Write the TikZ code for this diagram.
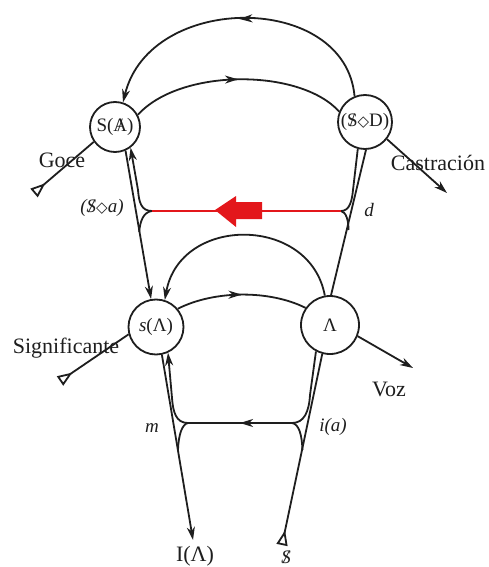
\documentclass[tikz,border=0pt]{standalone}
\usepackage{fontspec}
\setmainfont{Liberation Serif}
\newfontfamily\symf{DejaVu Sans}
\usetikzlibrary{arrows.meta,decorations.markings}
\newcommand\slA{\ooalign{A\cr\hidewidth/\hidewidth\cr}}
\newcommand\slS{\ooalign{S\cr\hidewidth/\hidewidth\cr}}
\newcommand\lozg{{\symf\fontsize{15}{15}\selectfont ◇}}
\definecolor{ink}{HTML}{1E1E1E}
\definecolor{lred}{HTML}{E3171B}
\tikzset{
  lac/.tip={Stealth[length=13pt,width=8pt,inset=4pt]},
  tailtri/.tip={Triangle[open,reversed,length=15pt,width=11pt,line width=1.8pt]},
  line/.style={draw=ink, line width=1.8pt},
  circ/.style={circle, draw=ink, line width=1.8pt, inner sep=0pt, text=ink, font=\fontsize{19}{21}\selectfont},
  lab/.style={font=\fontsize{22}{24}\selectfont, text=ink, inner sep=0pt},
  mlab/.style={font=\fontsize{19}{21}\selectfont\itshape, text=ink, inner sep=0pt},
  midarr/.style={postaction={decorate},decoration={markings,mark=at position #1 with {\arrow{lac}}}},
  midarr/.default=0.5,
  redline/.style={draw=lred, line width=1.8pt}
}
\begin{document}
\begin{tikzpicture}[x=1pt,y=-1pt]
\fill[white] (0,0) rectangle (489,567);
\useasboundingbox (0,0) rectangle (489,567);

% nodes
\node[circ, minimum size=50pt] (SA) at (115,127) {S(\slA)};
\node[circ, minimum size=54pt] (SD) at (365,122) {(\slS\lozg D)};
\node[circ, minimum size=55pt] (sA) at (156,327) {\textit{s}(Λ)};
\node[circ, minimum size=58pt] (A) at (330,325) {Λ};

\coordinate (L1) at (152,211);
\coordinate (R1) at (341,211);
\coordinate (L2) at (188,423);
\coordinate (R2) at (292,423);
\coordinate (g0) at (34,193);
\coordinate (c1) at (447,193);
\coordinate (sg0) at (60,381);
\coordinate (v1) at (413,368);
\coordinate (i1) at (193,540);
\coordinate (s0) at (282,545);

% upper arcs
\draw[line, midarr, -{lac}] (SD.112) .. controls (345,-8) and (150,-8) .. (SA.72);
\draw[line, midarr] (SA.28) .. controls (180,68) and (300,68) .. (SD.158);

% goce, castracion
\draw[line, {tailtri}-] (g0) -- (SA.215);
\draw[line, -{lac}] (SD.-38) -- (c1);

% left upper verticals
\draw[line, -{lac}] (SA.-66) -- (sA.100);
\draw[line, -{lac}] (L1) .. controls (141,211) and (139,202) .. (138,190) -- (SA.-53);
\draw[line] (L1) .. controls (143,212) and (140,222) .. (139.2,232);

% right upper verticals
\draw[line] (SD.-88) -- (A.88);
\draw[line] (R1) .. controls (350,211) and (352,200) .. (353,190) -- (SD.-105);
\draw[line] (R1) .. controls (346,212) and (348.5,220) .. (348.5,230);

% red line and arrow
\draw[redline] (R1) -- (L1);
\fill[lred] (215,210) -- (236,196) -- (236,202) -- (262,202) -- (262,219) -- (236,219) -- (236,227) -- cycle;

% lower arcs
\draw[line, -{lac}] (A.100) .. controls (310,215) and (180,215) .. (sA.72);
\draw[line, midarr] (sA.40) .. controls (215,290) and (270,290) .. (A.145);

% significante, voz
\draw[line, {tailtri}-] (sg0) -- (sA.195);
\draw[line, -{lac}] (A.-22) -- (v1);

% lower left
\draw[line, -{lac}] (sA.-78) -- (i1);
\draw[line, -{lac}] (L2) .. controls (176,423) and (173,412) .. (172,398) -- (sA.-65);
\draw[line] (L2) .. controls (182,424) and (178.5,435) .. (178,450);

% lower horizontal
\draw[line, midarr] (R2) -- (L2);

% lower right
\draw[line, {tailtri}-] (s0) -- (A.-105);
\draw[line] (R2) .. controls (304,423) and (309,412) .. (310,395) -- (A.-118);
\draw[line] (R2) .. controls (299,424) and (302,435) .. (302.4,450);

% labels
\node[lab] (tGoce) at (62,160) {Goce};
\node[lab] (tCast) at (438,163) {Castración};
\node[mlab] (tSa) at (102,208) {(\slS\lozg a)};
\node[mlab] (td) at (369,210) {d};
\node[lab] (tSig) at (66,348) {Significante};
\node[lab] (tVoz) at (389,389) {Voz};
\node[mlab] (tm) at (152,428) {m};
\node[mlab] (tia) at (333,427) {i(a)};
\node[lab] (tIA) at (195,556) {I(Λ)};
\node[mlab] (tS) at (286,557) {\slS};
\end{tikzpicture}
\end{document}
